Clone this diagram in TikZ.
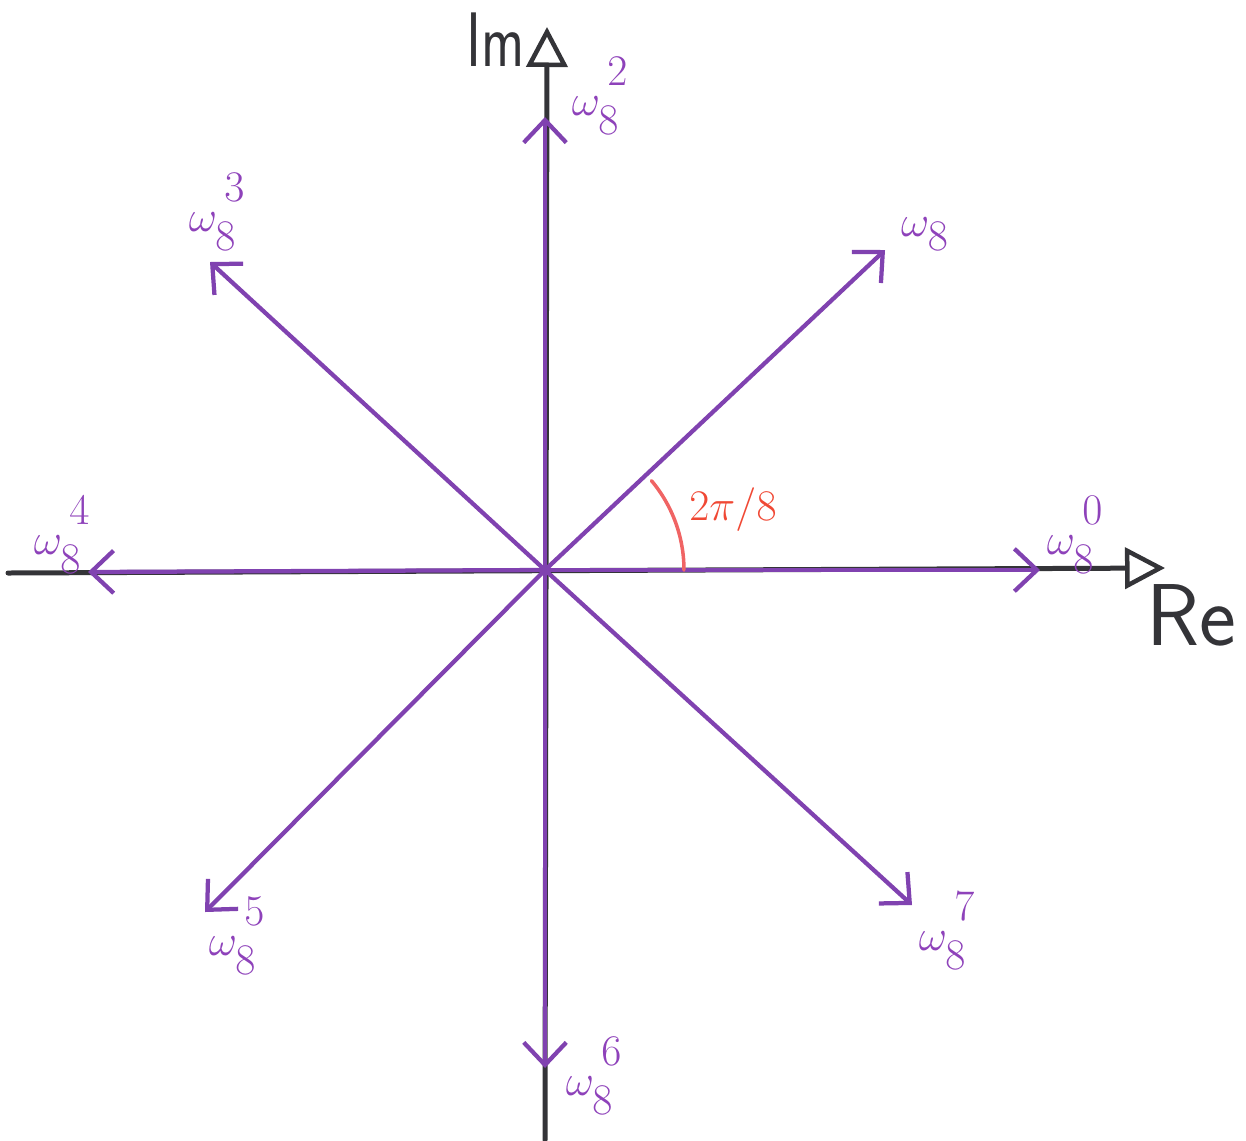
\documentclass[tikz,border=0pt]{standalone}
\usetikzlibrary{arrows.meta}
\definecolor{axisgray}{RGB}{52,52,56}
\definecolor{rootpurple}{RGB}{128,66,176}
\definecolor{labelpurple}{RGB}{142,66,186}
\definecolor{anglered}{RGB}{240,72,52}
\definecolor{arcred}{RGB}{240,100,100}
\newcommand{\rootlbl}[1]{$\omega_{\raisebox{-0.12em}{$\scriptstyle 8$}}^{\,\raisebox{0.22em}{$\scriptstyle #1$}}$}
\tikzset{
  axisline/.style={draw=axisgray, line width=0.1cm, line cap=round,
    -{Triangle[open, length=0.8cm, width=0.82cm, line width=0.09cm]}},
  rootarrow/.style={draw=rootpurple, line width=0.085cm, line cap=round,
    -{Straight Barb[length=0.45cm, width=0.85cm, line width=0.085cm]}},
  rootlabel/.style={text=labelpurple, font=\fontsize{38}{42}\selectfont, inner sep=0pt},
  axislabel/.style={text=axisgray, font=\sffamily\fontsize{44}{48}\selectfont, inner sep=0pt},
  anglelabel/.style={text=anglered, font=\fontsize{36}{40}\selectfont, inner sep=0pt}
}
\begin{document}
\begin{tikzpicture}[x=0.02cm, y=-0.02cm]
\useasboundingbox (0,0) rectangle (1246,1140);
% axes
\coordinate (O) at (545,570);
\coordinate (Rleft) at (8,573);
\coordinate (Rtip) at (1165,568);
\coordinate (Ibottom) at (545,1140);
\coordinate (Itip) at (547,27);
\draw[axisline] (Rleft) -- (Rtip);
\draw[axisline] (Ibottom) -- (Itip);
\node[axislabel, xscale=0.75] (im) at (496,40) {Im};
\node[axislabel, font=\sffamily\fontsize{50}{54}\selectfont] (re) at (1191,615) {Re};
% roots of unity
\coordinate (p0) at (1040,570);
\coordinate (p1) at (885,250);
\coordinate (p2) at (545,117);
\coordinate (p3) at (210,262);
\coordinate (p4) at (88,572);
\coordinate (p5) at (205,912);
\coordinate (p6) at (545,1068);
\coordinate (p7) at (912,905);
\foreach \k in {0,...,7} {\draw[rootarrow] (O) -- (p\k);}
\node[rootlabel] (l0) at (1075,535) {\rootlbl{0}};
\node[rootlabel] (l1) at (925,234) {$\omega_{\raisebox{-0.12em}{$\scriptstyle 8$}}$};
\node[rootlabel] (l2) at (600,96) {\rootlbl{2}};
\node[rootlabel] (l3) at (217,212) {\rootlbl{3}};
\node[rootlabel] (l4) at (62,535) {\rootlbl{4}};
\node[rootlabel] (l5) at (237,936) {\rootlbl{5}};
\node[rootlabel] (l6) at (594,1076) {\rootlbl{6}};
\node[rootlabel] (l7) at (947,931) {\rootlbl{7}};
% angle
\draw[arcred, line width=0.07cm, line cap=round] (O) ++(2.78cm,0) arc[start angle=0, end angle=40, radius=2.78cm];
\node[anglelabel] (ang) at (733,510) {$2\pi/8$};
\end{tikzpicture}
\end{document}
